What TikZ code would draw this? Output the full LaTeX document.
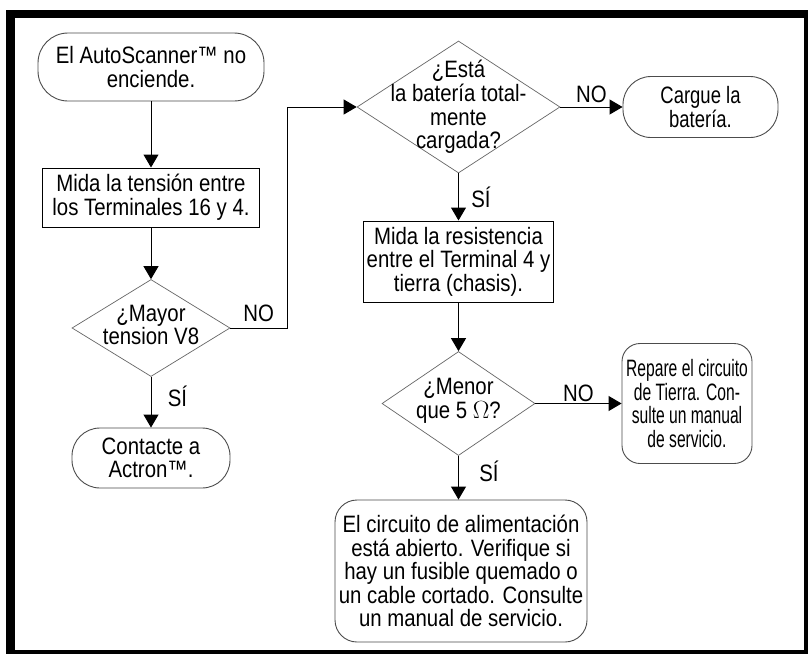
\documentclass[tikz,border=0pt]{standalone}
\usepackage{fontspec}
\setmainfont{Liberation Sans}[FakeStretch=0.86]
\newfontfamily\engfont{Liberation Sans}[FakeStretch=0.66]
\newfontfamily\mittelfont{Liberation Sans}[FakeStretch=0.78]
\usetikzlibrary{shapes.geometric,arrows.meta}

\begin{document}
\begin{tikzpicture}[x=1pt,y=-1pt,
  font=\fontsize{23.7}{23.6}\selectfont,
  flow/.style={-{Triangle[length=13pt,width=15pt]},line width=1pt},
  term/.style={draw=black!70,line width=0.9pt,rounded corners=#1,align=center,inner sep=2pt},
  term/.default=30pt,
  box/.style={draw,line width=1pt,align=center,inner sep=2pt},
  decision/.style={draw=black!60,line width=0.7pt,diamond,inner sep=0pt},
  every label/.style={align=center}]
% Rahmen
\fill (6,10) rectangle (808,654);
\fill[white] (15,18) rectangle (804,650);
\useasboundingbox (0,0) rectangle (808,654);
% linke Spalte
\node[term, minimum width=226pt, minimum height=68pt] (start) at (151,67) {El AutoScanner™ no\\enciende.};
\node[box, minimum width=217pt, minimum height=59pt] (mida1) at (151,197.5) {Mida la tensión entre\\los Terminales 16 y 4.};
\node[decision, minimum width=158pt, minimum height=97pt,
  label={[yshift=3pt]center:{¿Mayor\\tension V8}}] (mayor) at (151,328) {};
\node[term=28pt, minimum width=158pt, minimum height=60pt] (actron) at (151,458) {Contacte a\\Actron™.};
% rechte Spalte
\node[decision, minimum width=203pt, minimum height=132pt,
  label={center:{¿Está\\la batería total-\\mente\\cargada?}}] (bateria) at (458.5,107) {};
\node[term=28pt, minimum width=155pt, minimum height=61pt,
  font=\fontsize{23.7}{23.6}\mittelfont] (cargue) at (700.5,107) {Cargue la\\batería.};
\node[box, minimum width=190pt, minimum height=81pt] (mida2) at (458.5,261.5) {Mida la resistencia\\entre el Terminal 4 y\\tierra (chasis).};
\node[decision, minimum width=153pt, minimum height=104pt,
  label={[yshift=3pt]center:{¿Menor\\que 5 $\Omega$?}}] (menor) at (458.5,403.5) {};
\node[term=18pt, minimum width=130pt, minimum height=120pt,
  font=\fontsize{23.7}{23.6}\engfont] (repare) at (687,403.5) {Repare el circuito\\de Tierra. Con-\\sulte un manual\\de servicio.};
\node[term=22pt, minimum width=252pt, minimum height=142pt] (abierto) at (461,571) {El circuito de alimentación\\está abierto. Verifique si\\hay un fusible quemado o\\un cable cortado. Consulte\\un manual de servicio.};
\coordinate (knick) at (287,107);
% Pfeile
\draw[flow] (start) -- (mida1);
\draw[flow] (mida1) -- (mayor);
\draw[flow] (mayor) -- node[pos=0.38,right=13pt] {SÍ} (actron);
\draw[flow] (mayor.east) -| node[pos=0.25,above=2pt] {NO} (knick) -- (bateria.west);
\draw[flow] (bateria) -- node[above] {NO} (cargue);
\draw[flow] (bateria) -- node[midway,right=9pt] {SÍ} (mida2);
\draw[flow] (mida2) -- (menor);
\draw[flow] (menor) -- node[above=-2pt] {NO} (repare);
\draw[flow] (menor.south) -- node[pos=0.36,right=17pt] {SÍ} (menor.south |- abierto.north);
\end{tikzpicture}
\end{document}
